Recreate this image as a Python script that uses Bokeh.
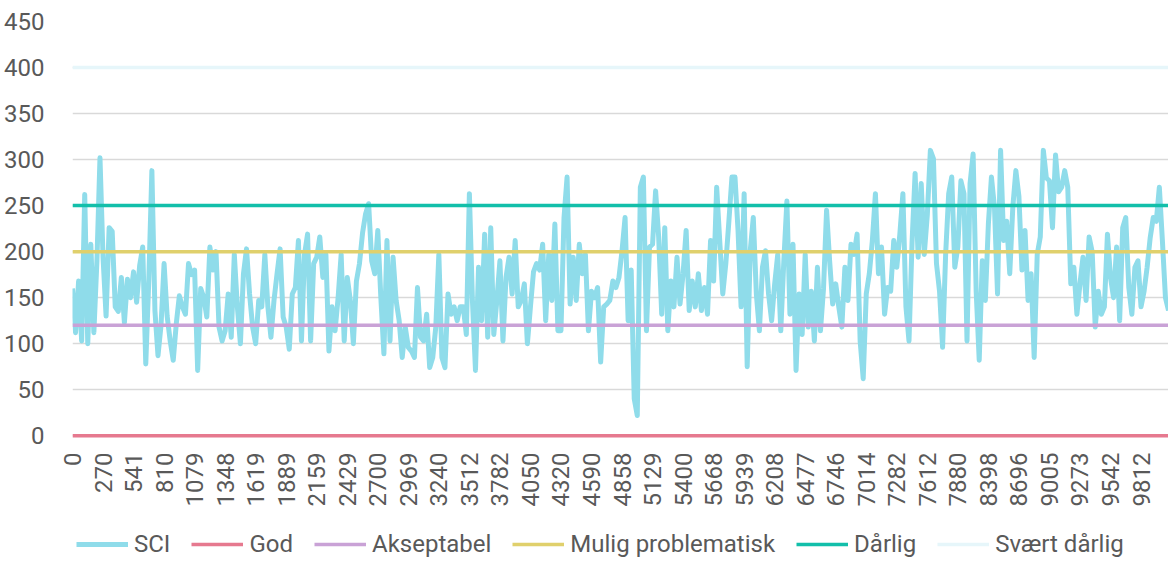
import math
from bokeh.plotting import figure
from bokeh.layouts import column
from bokeh.models import Range1d, FixedTicker, SingleIntervalTicker, Legend, LegendItem
from bokeh.embed import file_html
from bokeh.resources import INLINE

# ---------------- data ----------------
tick_labels = ["0", "270", "541", "810", "1079", "1348", "1619", "1889", "2159", "2429",
               "2700", "2969", "3240", "3512", "3782", "4050", "4320", "4590", "4858", "5129",
               "5400", "5668", "5939", "6208", "6477", "6746", "7014", "7282", "7612", "7880",
               "8398", "8696", "9005", "9273", "9542", "9812"]
points_per_label = 10

sci = [
    160, 112, 168, 103, 262, 100, 208, 112, 190, 302,
    194, 130, 226, 222, 140, 135, 172, 123, 170, 150,
    178, 145, 185, 205, 78, 170, 288, 136, 87, 120,
    187, 130, 103, 82, 122, 152, 140, 132, 187, 175,
    180, 71, 160, 150, 129, 205, 180, 200, 118, 103,
    114, 154, 107, 197, 140, 100, 176, 203, 154, 118,
    100, 147, 140, 197, 140, 107, 147, 176, 203, 129,
    118, 94, 154, 161, 212, 103, 197, 219, 103, 187,
    194, 216, 172, 197, 92, 140, 114, 150, 197, 103,
    172, 147, 100, 168, 187, 220, 241, 252, 190, 176,
    223, 150, 89, 212, 103, 194, 147, 125, 85, 118,
    96, 92, 85, 161, 107, 103, 132, 74, 85, 118,
    197, 85, 74, 154, 132, 140, 125, 140, 140, 110,
    263, 147, 71, 183, 125, 219, 107, 226, 110, 147,
    190, 103, 172, 194, 154, 212, 140, 147, 165, 100,
    140, 178, 187, 180, 208, 125, 197, 147, 230, 114,
    114, 237, 281, 143, 194, 147, 208, 176, 197, 114,
    157, 150, 161, 80, 140, 143, 147, 168, 161, 172,
    201, 237, 125, 180, 40, 22, 270, 281, 114, 205,
    208, 266, 216, 132, 226, 114, 168, 140, 194, 143,
    176, 223, 136, 168, 140, 176, 136, 161, 132, 212,
    168, 270, 212, 154, 187, 233, 281, 281, 223, 140,
    263, 75, 201, 237, 154, 114, 183, 201, 154, 125,
    165, 197, 114, 190, 255, 132, 208, 71, 154, 110,
    197, 118, 157, 103, 183, 114, 160, 245, 190, 143,
    165, 140, 118, 183, 147, 208, 197, 219, 103, 62,
    154, 176, 212, 263, 176, 205, 132, 161, 157, 212,
    183, 219, 263, 140, 103, 210, 285, 194, 274, 197,
    240, 310, 301, 187, 157, 96, 197, 263, 281, 183,
    205, 277, 263, 103, 274, 306, 157, 82, 190, 147,
    230, 281, 248, 154, 310, 212, 233, 176, 248, 288,
    260, 180, 223, 147, 176, 85, 197, 216, 310, 280,
    277, 226, 305, 265, 270, 288, 270, 165, 183, 132,
    165, 194, 147, 216, 200, 118, 157, 132, 140, 219,
    172, 150, 205, 125, 226, 237, 161, 132, 183, 190,
    140, 157, 183, 215, 237, 233, 270, 212, 150, 136,
]

series_names = ["God", "Akseptabel", "Mulig problematisk", "Dårlig", "Svært dårlig"]
threshold_values = [0, 120, 200, 250, 400]
colors = {"SCI": "#8FDCEA", "God": "#E6798F", "Akseptabel": "#C9A2D6",
          "Mulig problematisk": "#E0D06C", "Dårlig": "#13BFAA", "Svært dårlig": "#E6F6FA"}

# ---------------- main chart ----------------
n = len(sci)
x = list(range(n))
FONT = "Roboto"
TXT = "#595959"
SCI_W = 5
THR_W = 3.5

p = figure(width=1168, height=520, output_backend="svg", toolbar_location=None,
           x_range=Range1d(0, n - 1), y_range=Range1d(-3, 450),
           min_border_left=72, min_border_right=0, min_border_top=21, min_border_bottom=82)
p.outline_line_color = None
p.background_fill_color = "white"
p.border_fill_color = "white"

p.xgrid.visible = False
p.ygrid.grid_line_color = "#D9D9D9"
p.ygrid.grid_line_width = 1.3
p.ygrid.ticker = SingleIntervalTicker(interval=50)

yax = p.yaxis[0]
yax.ticker = SingleIntervalTicker(interval=50)
yax.axis_line_color = None
yax.major_tick_line_color = None
yax.minor_tick_line_color = None
yax.major_label_standoff = 22
yax.major_label_text_font = FONT
yax.major_label_text_font_size = "24px"
yax.major_label_text_color = TXT

xax = p.xaxis[0]
tick_pos = [i * points_per_label for i in range(len(tick_labels))]
xax.ticker = FixedTicker(ticks=tick_pos)
xax.major_label_overrides = {t: lab for t, lab in zip(tick_pos, tick_labels)}
xax.major_label_orientation = math.pi / 2
xax.axis_line_color = None
xax.major_tick_line_color = None
xax.minor_tick_line_color = None
xax.major_label_standoff = 8
xax.major_label_text_font = FONT
xax.major_label_text_font_size = "24px"
xax.major_label_text_color = TXT

p.line(x, sci, line_color=colors["SCI"], line_width=SCI_W, line_join="round")
for name, val in zip(series_names, threshold_values):
    p.line(x, [val] * n, line_color=colors[name], line_width=THR_W)

# ---------------- legend strip (frames are aligned with the chart above) ----------------
lg = figure(width=1168, height=41, output_backend="svg", toolbar_location=None,
            x_range=Range1d(0, 1), y_range=Range1d(0, 1),
            x_axis_location=None, y_axis_location=None,
            min_border_left=0, min_border_right=0, min_border_top=0, min_border_bottom=0)
lg.outline_line_color = None
lg.xgrid.visible = False
lg.ygrid.visible = False

items = []
for name in ["SCI"] + series_names:
    w = SCI_W if name == "SCI" else THR_W
    # legend proxy: a single undefined point, so nothing is drawn in the strip itself
    rr = lg.line([0], [float("nan")], line_color=colors[name], line_width=w)
    items.append(LegendItem(label=name, renderers=[rr]))

legend = Legend(items=items, orientation="horizontal", location=(4, 3),
                label_text_font=FONT, label_text_font_size="24px", label_text_color=TXT,
                glyph_width=52, glyph_height=20, label_standoff=6, spacing=21,
                padding=0, margin=0, border_line_color=None, background_fill_alpha=0)
lg.add_layout(legend, "center")

layout = column(p, lg, spacing=0)
open("out.html", "w").write(file_html(layout, INLINE))
